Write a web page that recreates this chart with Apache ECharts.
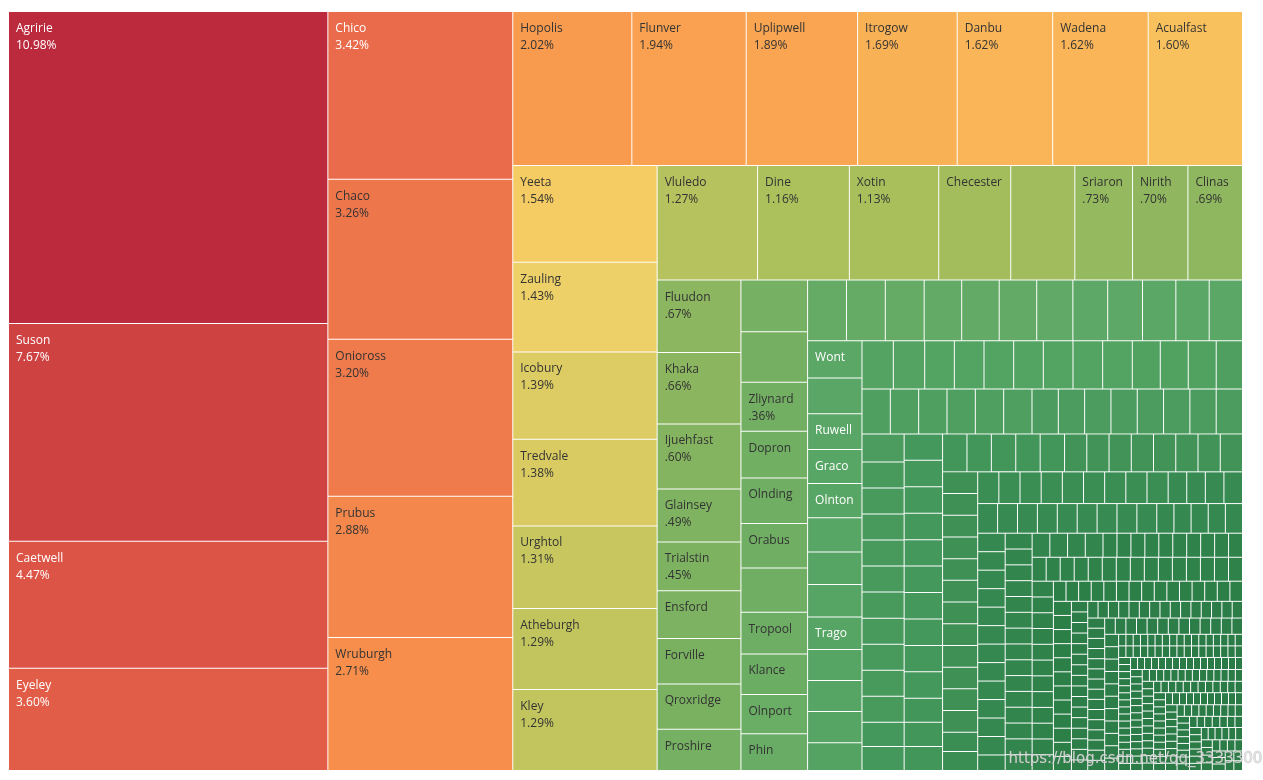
<!DOCTYPE html>
<html>
<head>
<meta charset="utf-8">
<title>City share treemap</title>
<script src="https://cdn.jsdelivr.net/npm/echarts@6/dist/echarts.min.js"></script>
<style>
    html, body { margin: 0; padding: 0; background: #fff; }
    #chart { width: 1263px; height: 780px; }
</style>
</head>
<body>
<div id="chart"></div>
<script type="text/javascript">
// city names, largest share first ('' = city whose name is not printed)
var cities = ['Agririe', 'Suson', 'Caetwell', 'Eyeley',
    'Chico', 'Chaco', 'Onioross', 'Prubus', 'Wruburgh',
    'Hopolis', 'Flunver', 'Uplipwell', 'Itrogow', 'Danbu', 'Wadena', 'Acualfast',
    'Yeeta', 'Zauling', 'Icobury', 'Tredvale', 'Urghtol', 'Atheburgh', 'Kley',
    'Vluledo', 'Dine', 'Xotin', 'Checester', '', 'Sriaron', 'Nirith', 'Clinas',
    'Fluudon', 'Khaka', 'Ijuehfast', 'Glainsey', 'Trialstin', 'Ensford', 'Forville', 'Qroxridge', 'Proshire',
    '', '', 'Zliynard', 'Dopron', 'Olnding', 'Orabus', '', 'Tropool', 'Klance', 'Olnport', 'Phin',
    '', '', '', '', '', '', '', '', '', '', '', '',
    'Wont', '', 'Ruwell', 'Graco', 'Olnton', '', '', '', 'Trago', '', '', '', ''];
// share of total (%) for each name above
var shares = [10.98, 7.67, 4.47, 3.60,
    3.42, 3.26, 3.20, 2.88, 2.71,
    2.02, 1.94, 1.89, 1.69, 1.62, 1.62, 1.60,
    1.54, 1.43, 1.39, 1.38, 1.31, 1.29, 1.29,
    1.27, 1.16, 1.13, 0.91, 0.81, 0.73, 0.70, 0.69,
    0.67, 0.66, 0.60, 0.49, 0.45, 0.44, 0.42, 0.42, 0.38,
    0.38, 0.37, 0.36, 0.344, 0.335, 0.326, 0.326, 0.307, 0.298, 0.288, 0.270,
    0.260, 0.260, 0.260, 0.251, 0.251, 0.251, 0.242, 0.233, 0.233, 0.223, 0.223, 0.223,
    0.223, 0.214, 0.214, 0.205, 0.205, 0.205, 0.195, 0.195, 0.195, 0.186, 0.186, 0.186, 0.167];
// the many small unnamed cities: [share %, number of cities with that share]
var smallCities = [
    [0.167, 2], [0.158, 7], [0.149, 3], [0.140, 7], [0.130, 9], [0.121, 10],
    [0.112, 12], [0.102, 8], [0.093, 8], [0.084, 12], [0.074, 11], [0.065, 13],
    [0.056, 17], [0.047, 20], [0.037, 37], [0.028, 27], [0.019, 70], [0.0093, 200]
];
// labels that print the name only
var nameOnly = ['Checester', 'Ensford', 'Forville', 'Qroxridge', 'Proshire', 'Dopron', 'Olnding',
    'Orabus', 'Tropool', 'Klance', 'Olnport', 'Phin', 'Wont', 'Ruwell', 'Graco', 'Olnton', 'Trago'];

// red - gold - green colour ramp, keyed on share
var colorStops = [[10.98, '#bc2a3e'], [7.67, '#cf4242'], [4.47, '#dc5446'], [3.60, '#e25d48'],
    [3.42, '#ea6b4b'], [3.20, '#ef7a4b'], [2.71, '#f78e4c'], [2.02, '#f89b4e'], [1.89, '#f9a552'],
    [1.62, '#f9b558'], [1.60, '#f8c15d'], [1.54, '#f5cc63'], [1.43, '#edd067'], [1.38, '#d9cb62'],
    [1.29, '#c2c55e'], [1.27, '#b5c25d'], [1.13, '#a9bf5c'], [0.81, '#a0bc5d'], [0.69, '#8eb75f'],
    [0.60, '#85b460'], [0.45, '#7db261'], [0.38, '#76b062'], [0.27, '#68ac65'], [0.223, '#5aa766'],
    [0.16, '#54a363'], [0.14, '#4e9f60'], [0.12, '#47995c'], [0.10, '#439659'], [0.084, '#3e9055'],
    [0.065, '#378a51'], [0.047, '#32854c'], [0.028, '#2d7f48'], [0.0093, '#2a7b45']];

function hexRgb(h) {
    return [parseInt(h.substr(1, 2), 16), parseInt(h.substr(3, 2), 16), parseInt(h.substr(5, 2), 16)];
}
function colorFor(v) {
    if (v >= colorStops[0][0]) return colorStops[0][1];
    for (var i = 1; i < colorStops.length; i++) {
        var hi = colorStops[i - 1], lo = colorStops[i];
        if (v >= lo[0]) {
            var t = (v - lo[0]) / (hi[0] - lo[0]);
            var a = hexRgb(lo[1]), b = hexRgb(hi[1]);
            return 'rgb(' + Math.round(a[0] + (b[0] - a[0]) * t) + ',' +
                Math.round(a[1] + (b[1] - a[1]) * t) + ',' + Math.round(a[2] + (b[2] - a[2]) * t) + ')';
        }
    }
    return colorStops[colorStops.length - 1][1];
}
function pctText(v) {
    var s = v.toFixed(2);
    if (v < 1) s = s.substr(1);   // Tableau style: .67%
    return s + '%';
}

function makeItem(name, v) {
    return {
        name: name,
        value: v,
        itemStyle: { color: colorFor(v) },
        label: { color: (v >= 3.4 || v <= 0.23) ? '#ffffff' : '#333333' }
    };
}

var data = [];
for (var i = 0; i < cities.length; i++) {
    data.push(makeItem(cities[i], shares[i]));
}
smallCities.forEach(function (g) {
    for (var k = 0; k < g[1]; k++) data.push(makeItem('', g[0]));
});

var myChart = echarts.init(document.getElementById('chart'));
var option = {
    animation: false,
    tooltip: { show: false },
    graphic: [{
        type: 'text',
        left: 1008,
        top: 751,
        z: 100,
        style: {
            text: 'https://blog.csdn.net/qq_33333002',
            fontFamily: 'DejaVu Sans',
            fontSize: 15,
            fill: 'rgba(225,225,225,0.85)',
            stroke: 'rgba(120,120,120,0.35)',
            lineWidth: 1
        }
    }],
    series: [{
        type: 'treemap',
        left: 9,
        top: 12,
        width: 1233,
        height: 758,
        sort: false,
        roam: false,
        nodeClick: false,
        visibleMin: 0,
        breadcrumb: { show: false },
        levels: [
            { itemStyle: { borderWidth: 0, gapWidth: 1, borderColor: '#ffffff' } },
            { itemStyle: { borderWidth: 0, gapWidth: 0 } }
        ],
        label: {
            show: true,
            position: 'insideTopLeft',
            distance: 0,
            padding: [8, 0, 0, 7],
            fontFamily: 'Open Sans',
            fontSize: 12,
            lineHeight: 17,
            formatter: function (p) {
                if (!p.name) return '';
                if (nameOnly.indexOf(p.name) >= 0) return p.name;
                return p.name + '\n' + pctText(p.value);
            }
        },
        emphasis: { disabled: true },
        data: data
    }]
};
myChart.setOption(option);
</script>
</body>
</html>
